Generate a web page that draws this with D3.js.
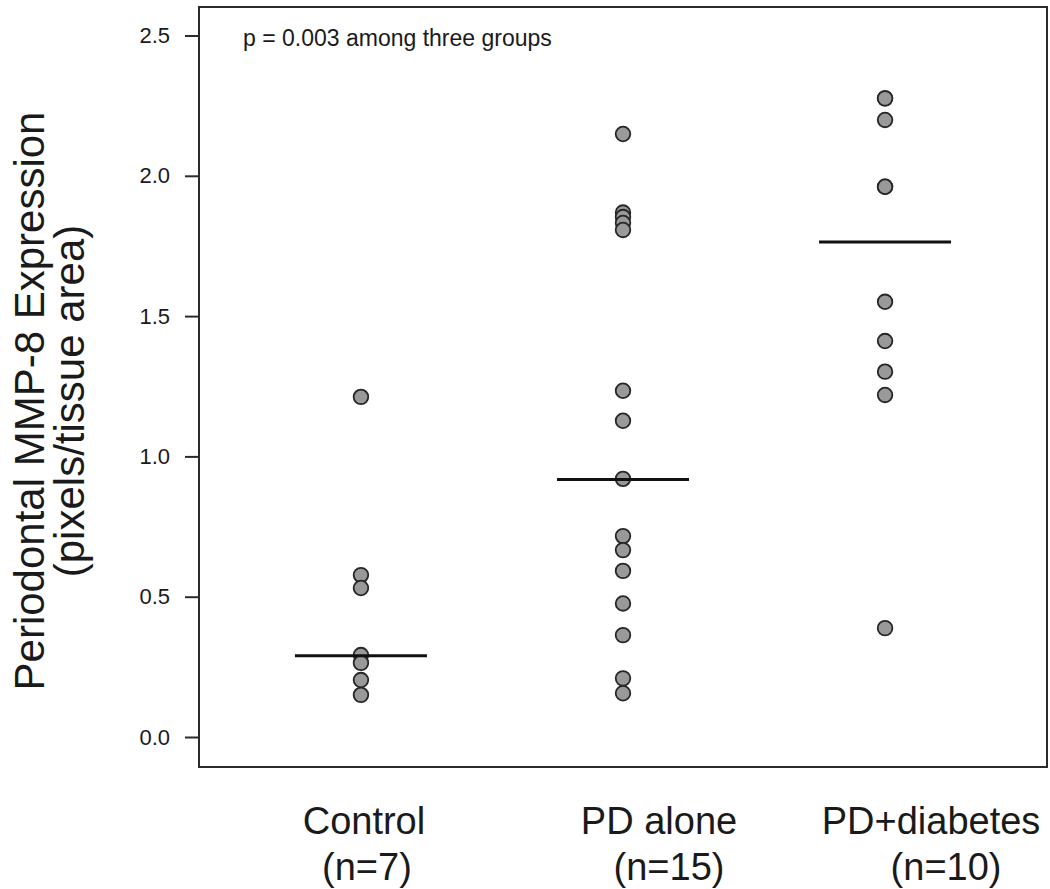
<!DOCTYPE html>
<html>
<head>
<meta charset="utf-8">
<script src="https://cdn.jsdelivr.net/npm/d3@7"></script>
<style>
  body { margin: 0; background: #fff; }
  text { font-family: "Liberation Sans", Arial, sans-serif; fill: #1a1a1a; }
</style>
</head>
<body>
<div id="chart"></div>
<script>
// data
var categories = ["Control", "PD alone", "PD+diabetes"];
var counts = ["(n=7)", "(n=15)", "(n=10)"];
var controlValues = [1.212, 0.577, 0.531, 0.292, 0.264, 0.203, 0.150];
var pdAloneValues = [2.149, 1.869, 1.853, 1.832, 1.807, 1.234, 1.127, 0.920,
                     0.716, 0.666, 0.592, 0.476, 0.363, 0.209, 0.156];
var pdDiabetesValues = [2.276, 2.276, 2.199, 1.961, 1.961, 1.551, 1.411, 1.302, 1.219, 0.388];
var medianValues = [0.290, 0.918, 1.764];
var yTicks = [0, 0.5, 1.0, 1.5, 2.0, 2.5];
var note = "p = 0.003 among three groups";
var yTitle = ["Periodontal MMP-8 Expression", "(pixels/tissue area)"];

var groups = [controlValues, pdAloneValues, pdDiabetesValues];

var width = 1050, height = 889;
var box = { left: 199, right: 1047, top: 7, bottom: 767 };

var svg = d3.select("#chart")
    .append("svg")
    .attr("width", width)
    .attr("height", height);

var xscale = d3.scalePoint()
    .domain(categories)
    .range([box.left, box.right])
    .padding(0.618);

var yscale = d3.scaleLinear()
    .domain([0, 2.5])
    .range([737, 35.5]);

// frame
svg.append("rect")
    .attr("x", box.left)
    .attr("y", box.top)
    .attr("width", box.right - box.left)
    .attr("height", box.bottom - box.top)
    .attr("fill", "none")
    .attr("stroke", "#2b2b2b")
    .attr("stroke-width", 2);

// y axis
var yAxis = d3.axisLeft(yscale)
    .tickValues(yTicks)
    .tickFormat(d3.format(".1f"))
    .tickSize(14)
    .tickPadding(15);

var yg = svg.append("g")
    .attr("class", "y_axis")
    .attr("transform", "translate(" + box.left + ",0)")
    .call(yAxis);
yg.select(".domain").remove();
yg.selectAll("line").attr("stroke", "#2b2b2b").attr("stroke-width", 2);
yg.selectAll(".tick text")
    .style("font-family", "Liberation Sans, Arial, sans-serif")
    .style("font-size", "22px")
    .attr("fill", "#222");

// y title, two lines
svg.append("g")
    .selectAll("text")
    .data(yTitle)
    .enter()
    .append("text")
    .attr("transform", function(d, i) {
        return "translate(" + (44 + i * 40) + "," + 401 + ") rotate(-90)";
    })
    .attr("text-anchor", "middle")
    .style("font-size", "42px")
    .text(function(d) { return d; });

// p value note
svg.append("text")
    .attr("x", 243)
    .attr("y", 46)
    .style("font-size", "23px")
    .attr("fill", "#222")
    .text(note);

// points
var points = [];
groups.forEach(function(vals, gi) {
    vals.forEach(function(v) {
        points.push({ category: categories[gi], value: v });
    });
});

svg.append("g")
    .selectAll("circle")
    .data(points)
    .enter()
    .append("circle")
    .attr("cx", function(d) { return xscale(d.category); })
    .attr("cy", function(d) { return yscale(d.value); })
    .attr("r", 7.3)
    .attr("fill", "#999999")
    .attr("stroke", "#262626")
    .attr("stroke-width", 1.8);

// median lines
var halfLine = 66;
svg.append("g")
    .selectAll("line")
    .data(medianValues)
    .enter()
    .append("line")
    .attr("x1", function(d, i) { return xscale(categories[i]) - halfLine; })
    .attr("x2", function(d, i) { return xscale(categories[i]) + halfLine; })
    .attr("y1", function(d) { return yscale(d); })
    .attr("y2", function(d) { return yscale(d); })
    .attr("stroke", "#111")
    .attr("stroke-width", 3);

// category labels under the frame
var nameShift = [3, 36, 46];
var countShift = [6, 46, 61];
var labels = svg.append("g");
labels.selectAll(".catname")
    .data(categories)
    .enter()
    .append("text")
    .attr("class", "catname")
    .attr("x", function(d, i) { return xscale(d) + nameShift[i]; })
    .attr("y", 834)
    .attr("text-anchor", "middle")
    .style("font-size", "38px")
    .text(function(d) { return d; });
labels.selectAll(".catcount")
    .data(counts)
    .enter()
    .append("text")
    .attr("class", "catcount")
    .attr("x", function(d, i) { return xscale(categories[i]) + countShift[i]; })
    .attr("y", 880)
    .attr("text-anchor", "middle")
    .style("font-size", "38px")
    .text(function(d) { return d; });
</script>
</body>
</html>
